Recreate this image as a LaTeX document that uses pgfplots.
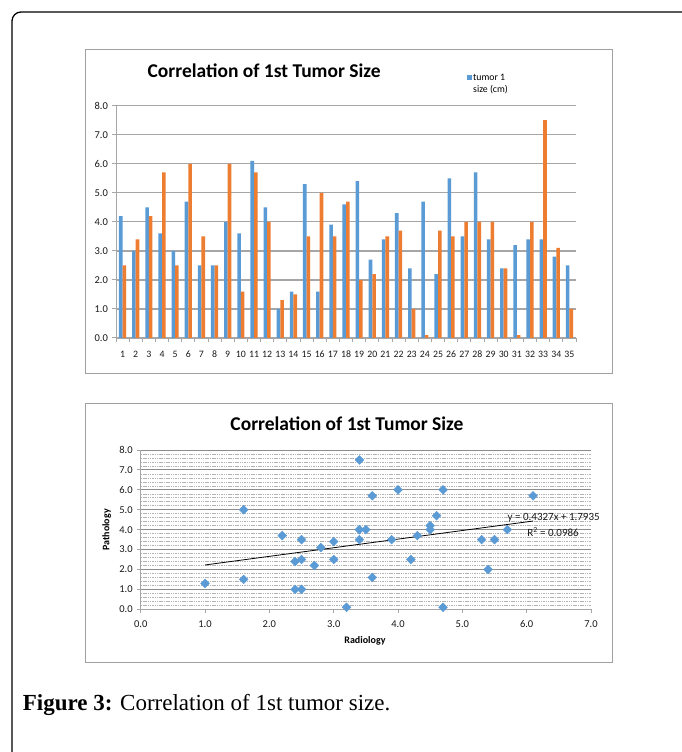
\documentclass[border=0pt]{standalone}
\usepackage{fontspec}
\setmainfont{Carlito}
\newfontfamily\capfont{Liberation Serif}
\usepackage{pgfplots}
\pgfplotsset{compat=1.18}
\usepackage{pgfplotstable}
\definecolor{xblue}{HTML}{5B9BD5}
\definecolor{xorange}{HTML}{ED7D31}
\definecolor{gridgray}{HTML}{A6A6A6}
\definecolor{boxgray}{HTML}{A0A0A0}

\pgfplotstableread{
cat blue orange
1 4.2 2.5
2 3.0 3.4
3 4.5 4.2
4 3.6 5.7
5 3.0 2.5
6 4.7 6.0
7 2.5 3.5
8 2.5 2.5
9 4.0 6.0
10 3.6 1.6
11 6.1 5.7
12 4.5 4.0
13 1.0 1.3
14 1.6 1.5
15 5.3 3.5
16 1.6 5.0
17 3.9 3.5
18 4.6 4.7
19 5.4 2.0
20 2.7 2.2
21 3.4 3.5
22 4.3 3.7
23 2.4 1.0
24 4.7 0.1
25 2.2 3.7
26 5.5 3.5
27 3.5 4.0
28 5.7 4.0
29 3.4 4.0
30 2.4 2.4
31 3.2 0.1
32 3.4 4.0
33 3.4 7.5
34 2.8 3.1
35 2.5 1.0
}\tumordata

\begin{document}
\begin{tikzpicture}[x=1pt,y=1pt]
\useasboundingbox (0,0) rectangle (681,752);
\fill[white] (0,0) rectangle (681,752);
% outer frame (only top and left visible)
\draw[black, line width=1.3pt, rounded corners=9pt] (12,-5) -- (12,740) -- (690,740);
% chart boxes
\draw[boxgray, line width=0.9pt] (85,379) rectangle (612,703);
\draw[boxgray, line width=0.9pt] (85,90) rectangle (612,349);

% ---------- bar chart ----------
\begin{axis}[
  at={(116pt,414pt)}, anchor=south west,
  scale only axis, width=460pt, height=232.3pt,
  ybar=0pt, bar width=3.6pt,
  xmin=0.5, xmax=35.5, ymin=0, ymax=8,
  axis x line=bottom, axis y line=left,
  axis line style={draw=gridgray, line width=1pt, -},
  xtick={1,...,35}, major x tick style={draw=none},
  minor xtick={0.5,1.5,...,35.5},
  minor x tick style={draw=gridgray, line width=0.8pt},
  minor tick length=4pt,
  ytick={0,...,8}, major tick length=4pt,
  y tick style={draw=gridgray, line width=1pt},
  tick align=outside,
  ymajorgrids, grid style={draw=gridgray, line width=1.3pt},
  /pgf/number format/assume math mode=true,
  yticklabel={\pgfmathprintnumber[fixed,fixed zerofill,precision=1,assume math mode=true]{\tick}},
  y tick label style={font=\fontsize{10.5}{12}\selectfont, text=black!90, xshift=-0.5pt},
  x tick label style={font=\fontsize{9.8}{11}\selectfont, text=black!90, yshift=-5.5pt},
  title={Correlation of 1st Tumor Size},
  title style={at={(0.322,1.123)}, anchor=center, font=\bfseries\fontsize{19.5}{22}\selectfont},
  legend style={at={(0.763,1.148)}, anchor=north west, draw=none, fill=none,
    font=\fontsize{9.8}{11.5}\selectfont, inner sep=0pt,
    nodes={inner sep=1pt}},
  legend image code/.code={\fill[#1,draw=none] (0pt,-2.5pt) rectangle (5pt,2.5pt);},
  clip=false
]
\addplot[fill=xblue, draw=none] table[x=cat,y=blue]{\tumordata};
\addlegendentry{\begin{tabular}[t]{@{}l@{}}tumor 1\\[0pt] size (cm)\end{tabular}}
\addplot[fill=xorange, draw=none] table[x=cat,y=orange]{\tumordata};
\end{axis}

% ---------- scatter ----------
\begin{axis}[
  at={(140.7pt,142.7pt)}, anchor=south west,
  scale only axis, width=450.3pt, height=159.3pt,
  xmin=0, xmax=7, ymin=0, ymax=8,
  axis x line=bottom, axis y line=left,
  axis line style={draw=gridgray, line width=1pt, -},
  xtick={0,...,7}, ytick={0,...,8},
  minor y tick num=4,
  tick align=outside, major tick length=4pt,
  major tick style={draw=gridgray, line width=1pt},
  minor y tick style={draw=none},
  ymajorgrids, yminorgrids,
  major grid style={draw=black!45, line width=0.9pt},
  minor grid style={draw=black!30, line width=0.6pt, dash pattern=on 1.5pt off 0.8pt},
  /pgf/number format/assume math mode=true,
  xticklabel={\pgfmathprintnumber[fixed,fixed zerofill,precision=1,assume math mode=true]{\tick}},
  yticklabel={\pgfmathprintnumber[fixed,fixed zerofill,precision=1,assume math mode=true]{\tick}},
  tick label style={font=\fontsize{10.5}{12}\selectfont, text=black!90},
  y tick label style={xshift=-0.5pt},
  x tick label style={yshift=-3.5pt},
  title={Correlation of 1st Tumor Size},
  title style={at={(0.458,1.126)}, anchor=center, font=\bfseries\fontsize{19.5}{22}\selectfont},
  xlabel={Radiology}, ylabel={Pathology},
  xlabel style={at={(0.498,-0.199)}, anchor=center, font=\bfseries\fontsize{10}{11}\selectfont},
  ylabel style={at={(-0.0755,0.498)}, anchor=center, font=\bfseries\fontsize{10}{11}\selectfont},
  clip=false
]
\addplot[only marks, mark=square*, mark size=3.1pt,
  mark options={rotate=45, fill=xblue, draw=xblue}]
  table[x=blue,y=orange]{\tumordata};
\addplot[black, line width=0.8pt] coordinates {(1.0,2.2262) (6.1,4.4330)};
\node[font=\fontsize{11}{12}\selectfont, text=black!90] at (axis cs:6.42,4.59) {y = 0.4327x + 1.7935};
\node[font=\fontsize{11}{12}\selectfont, text=black!90] at (axis cs:6.41,3.90) {R\textsuperscript{2} = 0.0986};
\end{axis}

% caption
\node[anchor=base west, inner sep=0pt, font=\capfont\fontsize{23}{27}\selectfont] at (22.7,41)
  {\textbf{Figure 3:} Correlation of 1st tumor size.};
\end{tikzpicture}
\end{document}
